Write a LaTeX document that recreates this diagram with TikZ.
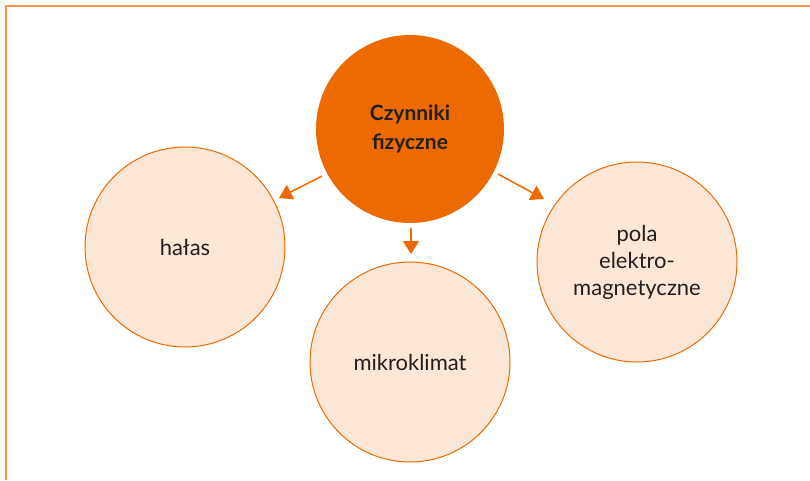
\documentclass[tikz,border=0pt]{standalone}
\usepackage{fontspec}
\setmainfont{Lato}
\usetikzlibrary{arrows.meta}
\definecolor{framec}{HTML}{F7944A}
\definecolor{mainc}{HTML}{EC6A00}
\definecolor{softc}{HTML}{FCE6D6}
\definecolor{textc}{HTML}{231F20}
\begin{document}
\begin{tikzpicture}[x=1pt,y=-1pt,
  hub/.style={circle,fill=mainc,draw=none,minimum size=188pt,inner sep=0pt,
    align=center,font=\fontsize{21}{29}\selectfont\bfseries,text=textc},
  leaf/.style={circle,fill=softc,draw=mainc,line width=1pt,minimum size=200pt,inner sep=0pt,
    align=center,font=\fontsize{22}{27}\selectfont,text=textc},
  link/.style={draw=mainc,line width=1.5pt,-{Triangle[length=13pt,width=16pt]}}]
\useasboundingbox (0,0) rectangle (810,480);
% outer frame: top and left edges only
\draw[framec,line width=2pt] (6,480) -- (6,6) -- (810,6);
% circles
\node[hub]  (c) at (410,129) {Czynniki\\fizyczne};
\node[leaf] (h) at (185,247) {hałas};
\node[leaf] (m) at (410,362) {mikroklimat};
\node[leaf] (p) at (637,262) {pola\\elektro-\\magnetyczne};
% connectors
\coordinate (hs) at (322,176);
\coordinate (he) at (279,198);
\coordinate (ms) at (411,228);
\coordinate (me) at (411,254);
\coordinate (ps) at (498,174);
\coordinate (pe) at (544,199);
\draw[link] (hs) -- (he);
\draw[link] (ms) -- (me);
\draw[link] (ps) -- (pe);
\end{tikzpicture}
\end{document}
